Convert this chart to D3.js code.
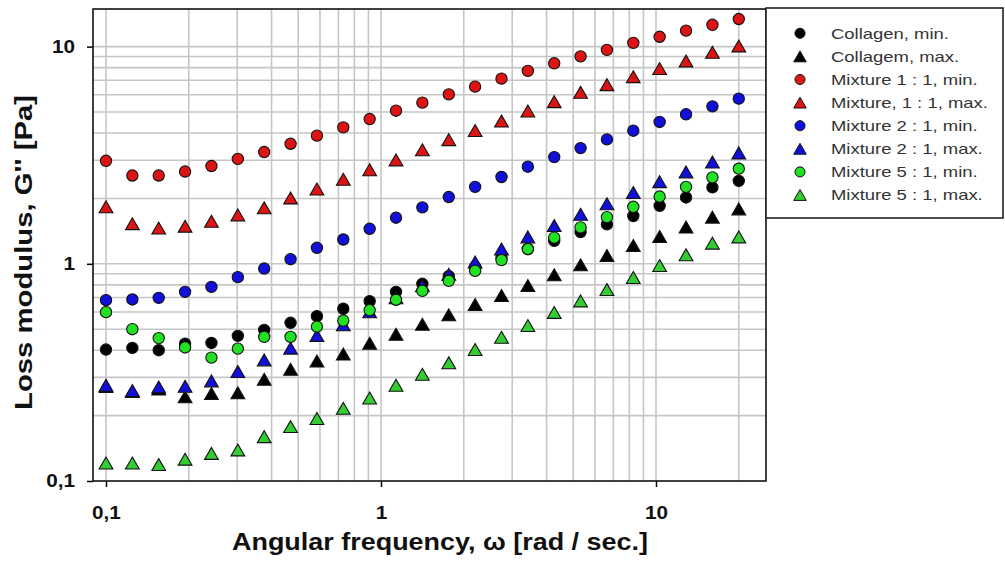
<!DOCTYPE html>
<html>
<head>
<meta charset="utf-8">
<script src="https://cdn.jsdelivr.net/npm/d3@7"></script>
<style>
  html, body { margin: 0; padding: 0; background: #fff; }
  svg { display: block; font-family: "Liberation Sans", Arial, sans-serif; }
</style>
</head>
<body>
<svg id="chart" width="1005" height="568"></svg>
<script>
// ---- data ----
const omega = [0.1, 0.1247, 0.1555, 0.1939, 0.2418, 0.3016, 0.3761, 0.469, 0.5848, 0.7293,
  0.9094, 1.134, 1.414, 1.764, 2.199, 2.743, 3.42, 4.265, 5.318, 6.632,
  8.27, 10.31, 12.86, 16.04, 20.0];

const collagenMin = [0.403, 0.410, 0.400, 0.429, 0.432, 0.466, 0.496, 0.535, 0.574, 0.621,
  0.673, 0.743, 0.809, 0.878, 0.969, 1.066, 1.17, 1.276, 1.40, 1.52,
  1.66, 1.85, 2.02, 2.25, 2.41];
const collagenMax = [0.272, 0.258, 0.265, 0.244, 0.253, 0.255, 0.294, 0.327, 0.357, 0.384,
  0.431, 0.474, 0.527, 0.582, 0.649, 0.714, 0.794, 0.890, 0.989, 1.092,
  1.214, 1.336, 1.476, 1.64, 1.79];
const mix11Min = [2.98, 2.55, 2.55, 2.66, 2.82, 3.04, 3.27, 3.57, 3.89, 4.25,
  4.64, 5.07, 5.52, 6.03, 6.54, 7.12, 7.73, 8.38, 9.02, 9.66,
  10.4, 11.1, 11.85, 12.6, 13.4];
const mix11Max = [1.83, 1.53, 1.46, 1.49, 1.57, 1.68, 1.81, 2.01, 2.21, 2.45,
  2.71, 3.01, 3.35, 3.73, 4.11, 4.54, 5.05, 5.58, 6.16, 6.68,
  7.27, 7.92, 8.59, 9.41, 10.07];
const mix21Min = [0.680, 0.685, 0.697, 0.743, 0.783, 0.868, 0.951, 1.05, 1.185, 1.294,
  1.45, 1.63, 1.82, 2.03, 2.26, 2.51, 2.80, 3.10, 3.41, 3.74,
  4.10, 4.50, 4.88, 5.31, 5.76];
const mix21Max = [0.276, 0.261, 0.271, 0.273, 0.289, 0.319, 0.361, 0.409, 0.468, 0.524,
  0.601, 0.697, 0.792, 0.895, 1.02, 1.17, 1.33, 1.50, 1.69, 1.89,
  2.13, 2.39, 2.65, 2.94, 3.24];
const mix51Min = [0.599, 0.500, 0.455, 0.412, 0.370, 0.407, 0.461, 0.461, 0.514, 0.548,
  0.612, 0.683, 0.751, 0.835, 0.928, 1.04, 1.17, 1.32, 1.47, 1.64,
  1.83, 2.04, 2.26, 2.50, 2.74];
const mix51Max = [0.121, 0.121, 0.119, 0.126, 0.134, 0.139, 0.160, 0.178, 0.194, 0.216,
  0.241, 0.276, 0.310, 0.350, 0.403, 0.459, 0.520, 0.597, 0.675, 0.761,
  0.865, 0.982, 1.10, 1.245, 1.33];

const seriesNames = ["Collagen, min.", "Collagem, max.", "Mixture 1 : 1, min.", "Mixture, 1 : 1, max.",
  "Mixture 2 : 1, min.", "Mixture 2 : 1, max.", "Mixture 5 : 1, min.", "Mixture 5 : 1, max."];
const seriesValues = [collagenMin, collagenMax, mix11Min, mix11Max, mix21Min, mix21Max, mix51Min, mix51Max];
const seriesShapes = ["circle", "triangle", "circle", "triangle", "circle", "triangle", "circle", "triangle"];
const seriesColors = ["#000000", "#000000", "#dd1414", "#dd1414", "#1010d8", "#1010d8", "#22e022", "#33cc33"];

const xTicks = [0.1, 1, 10];
const xTickLabels = ["0,1", "1", "10"];
const yTicks = [0.1, 1, 10];
const yTickLabels = ["0,1", "1", "10"];
const xGrid = [0.1,0.2,0.3,0.4,0.5,0.6,0.7,0.8,0.9,1,2,3,4,5,6,7,8,9,10,20];
const yGrid = [0.2,0.3,0.4,0.5,0.6,0.7,0.8,0.9,1,2,3,4,5,6,7,8,9,10];

const xTitle = "Angular frequency, \u03C9  [rad / sec.]";
const yTitle = "Loss modulus, G'' [Pa]";

// ---- layout ----
const L = 93, R = 766, T = 9, B = 481;
const svg = d3.select("#chart");

// horizontally widen text glyphs to match the reference's wider lettering
function widen(sel, factor) {
  sel.each(function () {
    const n = this.getComputedTextLength();
    d3.select(this).attr("textLength", n * factor).attr("lengthAdjust", "spacingAndGlyphs");
  });
}

const x = d3.scaleLog().domain([0.08969, 25.12]).range([L, R]);
const y = d3.scaleLog().domain([0.1, 14.9]).range([B, T]);

// grid
const grid = svg.append("g").attr("stroke", "#c6c6c6").attr("stroke-width", 1.6);
grid.selectAll("line.gx").data(xGrid).join("line")
  .attr("x1", d => x(d)).attr("x2", d => x(d)).attr("y1", T).attr("y2", B);
grid.selectAll("line.gy").data(yGrid).join("line")
  .attr("y1", d => y(d)).attr("y2", d => y(d)).attr("x1", L).attr("x2", R);

// axes
const xAxis = d3.axisBottom(x).tickValues(xTicks)
  .tickFormat((d, i) => xTickLabels[i]).tickSize(6).tickSizeOuter(0).tickPadding(19);
const gx = svg.append("g").attr("transform", `translate(0,${B})`).call(xAxis);
gx.select(".domain").remove();
gx.selectAll(".tick line").attr("stroke", "#000").attr("stroke-width", 1.5);
gx.selectAll(".tick text").attr("font-size", 18).attr("font-weight", "bold")
  .attr("fill", "#111").attr("font-family", "Liberation Sans, Arial, sans-serif");
widen(gx.selectAll(".tick text"), 1.15);

const yAxis = d3.axisLeft(y).tickValues(yTicks)
  .tickFormat((d, i) => yTickLabels[i]).tickSize(6).tickSizeOuter(0).tickPadding(12);
const gy = svg.append("g").attr("transform", `translate(${L},0)`).call(yAxis);
gy.select(".domain").remove();
gy.selectAll(".tick line").attr("stroke", "#000").attr("stroke-width", 1.5);
gy.selectAll(".tick text").attr("font-size", 18).attr("font-weight", "bold")
  .attr("fill", "#111").attr("font-family", "Liberation Sans, Arial, sans-serif");
widen(gy.selectAll(".tick text"), 1.15);

// frame
svg.append("rect").attr("x", L).attr("y", T).attr("width", R - L).attr("height", B - T)
  .attr("fill", "none").attr("stroke", "#111").attr("stroke-width", 1.6);

// markers
const circleSym = d3.symbol().type(d3.symbolCircle).size(100);
const triSym = d3.symbol().type(d3.symbolTriangle).size(82);
const triOffset = Math.sqrt(82 / (3 * Math.sqrt(3))) * 0.5;

seriesValues.forEach((vals, si) => {
  const shape = seriesShapes[si];
  const col = seriesColors[si];
  const g = svg.append("g");
  g.selectAll("path").data(vals.map((v, i) => [omega[i], v])).join("path")
    .attr("d", shape === "circle" ? circleSym() : triSym())
    .attr("transform", d => `translate(${x(d[0])},${y(d[1]) + (shape === "triangle" ? triOffset : 0)})`)
    .attr("fill", col)
    .attr("stroke", "#111")
    .attr("stroke-width", 1.1);
});

// titles
svg.append("text").attr("x", 440).attr("y", 550).attr("text-anchor", "middle")
  .attr("font-size", 23).attr("font-weight", "bold").attr("fill", "#111")
  .attr("textLength", 416).attr("lengthAdjust", "spacingAndGlyphs").text(xTitle);
svg.append("text").attr("transform", "translate(32,252.5) rotate(-90)").attr("text-anchor", "middle")
  .attr("font-size", 24).attr("font-weight", "bold").attr("fill", "#111")
  .attr("textLength", 315).attr("lengthAdjust", "spacingAndGlyphs").text(yTitle);

// legend
const LX = 766, LY = 8, LW = 237, LH = 210;
svg.append("rect").attr("x", LX).attr("y", LY).attr("width", LW).attr("height", LH)
  .attr("fill", "#fff").attr("stroke", "#222").attr("stroke-width", 1.6);
const legCircle = d3.symbol().type(d3.symbolCircle).size(80);
const legTri = d3.symbol().type(d3.symbolTriangle).size(68);
const legTriOff = Math.sqrt(68 / (3 * Math.sqrt(3))) * 0.5;
const leg = svg.append("g");
seriesNames.forEach((name, i) => {
  const cy = 33.3 + i * 23.1;
  const shape = seriesShapes[i];
  leg.append("path")
    .attr("d", shape === "circle" ? legCircle() : legTri())
    .attr("transform", `translate(800,${cy + (shape === "triangle" ? legTriOff : 0)})`)
    .attr("fill", seriesColors[i]).attr("stroke", "#111").attr("stroke-width", 1);
  leg.append("text").attr("x", 831).attr("y", cy).attr("dy", "0.35em")
    .attr("font-size", 15).attr("fill", "#333").text(name);
});
widen(leg.selectAll("text"), 1.23);
</script>
</body>
</html>
